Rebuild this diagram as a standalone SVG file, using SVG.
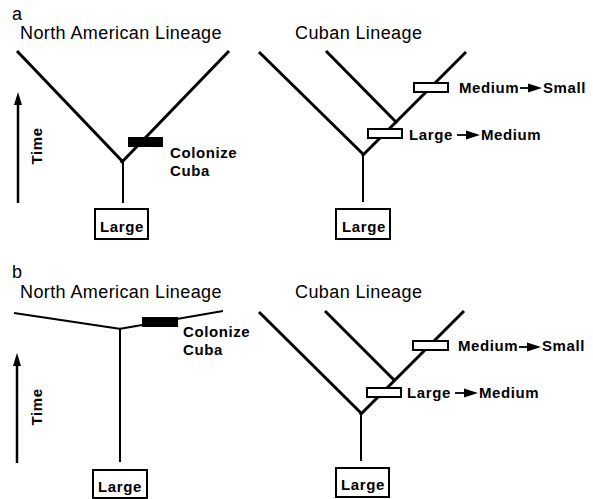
<svg xmlns="http://www.w3.org/2000/svg" width="593" height="499" viewBox="0 0 593 499">
<style>
.title{font-family:"Liberation Sans",Arial,sans-serif;font-size:18px;letter-spacing:0.4px;fill:#000}
.panel{font-family:"Liberation Sans",Arial,sans-serif;font-size:18px;fill:#000}
.lbl{font-family:"Liberation Sans",Arial,sans-serif;font-size:15px;font-weight:bold;letter-spacing:0.6px;fill:#000}
.br{stroke:#000;stroke-width:3;fill:none;stroke-linecap:butt}
.br2{stroke:#000;stroke-width:2.2;fill:none}
.stem{stroke:#000;stroke-width:2;fill:none}
.box{fill:#fff;stroke:#000;stroke-width:2}
.blk{fill:#000}
.ev{fill:#fff;stroke:#000;stroke-width:2}
.ax{stroke:#000;stroke-width:2.5}
</style>
<rect width="593" height="499" fill="#fff"/>

<!-- Panel a -->
<text class="panel" x="12" y="20">a</text>
<text class="title" x="20" y="39">North American Lineage</text>
<text class="title" x="295" y="39">Cuban Lineage</text>

<g id="time-a">
<line class="ax" x1="18" y1="203" x2="18" y2="100"/>
<polygon points="18,92 14,105 22,105" fill="#000"/>
<text class="lbl" transform="translate(42,146) rotate(-90)" text-anchor="middle">Time</text>
</g>

<g id="connectors">
<!-- a left tree -->
<line class="br" x1="17" y1="51" x2="123" y2="162"/>
<line class="br" x1="229" y1="51" x2="121" y2="163"/>
<line class="stem" x1="123" y1="161" x2="123" y2="203"/>
<!-- a right tree -->
<line class="br" x1="259" y1="52" x2="364" y2="155"/>
<line class="br" x1="466" y1="52" x2="362" y2="156"/>
<line class="br" x1="326" y1="51" x2="397" y2="123"/>
<line class="stem" x1="363" y1="154" x2="363" y2="202"/>
<!-- b left tree -->
<line class="br2" x1="14" y1="313" x2="121" y2="329"/>
<line class="br2" x1="119" y1="329" x2="223" y2="311"/>
<line class="stem" x1="120" y1="328" x2="120" y2="462"/>
<!-- b right tree -->
<line class="br" x1="259" y1="312" x2="362" y2="414"/>
<line class="br" x1="464" y1="311" x2="360" y2="415"/>
<line class="br" x1="325" y1="311" x2="395" y2="381"/>
<line class="stem" x1="361" y1="413" x2="361" y2="461"/>
</g>

<g id="colonize-a">
<rect class="blk" x="128" y="137" width="35" height="10"/>
<text class="lbl" x="170" y="158">Colonize</text>
<text class="lbl" x="170" y="176">Cuba</text>
</g>
<g id="large-a-left">
<rect class="box" x="95" y="209" width="53" height="30"/>
<text class="lbl" x="122" y="232" text-anchor="middle">Large</text>
</g>
<g id="large-a-right">
<rect class="box" x="336" y="209" width="54" height="30"/>
<text class="lbl" x="364" y="232" text-anchor="middle">Large</text>
</g>
<g id="med-small-a">
<rect class="ev" x="414" y="83" width="34" height="9"/>
<text class="lbl" x="459" y="93">Medium</text>
<line x1="520" y1="88" x2="530" y2="88" stroke="#000" stroke-width="1.8"/>
<polygon points="528,83.5 542,88 528,92.5" fill="#000"/>
<text class="lbl" x="543" y="93">Small</text>
</g>
<g id="large-med-a">
<rect class="ev" x="368" y="129" width="34" height="9"/>
<text class="lbl" x="409" y="140">Large</text>
<line x1="457" y1="135" x2="468" y2="135" stroke="#000" stroke-width="1.8"/>
<polygon points="466,130.5 480,135 466,139.5" fill="#000"/>
<text class="lbl" x="481" y="140">Medium</text>
</g>

<!-- Panel b -->
<text class="panel" x="12" y="278">b</text>
<text class="title" x="20" y="298">North American Lineage</text>
<text class="title" x="295" y="298">Cuban Lineage</text>

<g id="time-b">
<line class="ax" x1="17" y1="463" x2="17" y2="361"/>
<polygon points="17,353 13,366 21,366" fill="#000"/>
<text class="lbl" transform="translate(42,407) rotate(-90)" text-anchor="middle">Time</text>
</g>
<g id="colonize-b">
<rect class="blk" x="142" y="317" width="36" height="10"/>
<text class="lbl" x="183" y="337">Colonize</text>
<text class="lbl" x="183" y="355">Cuba</text>
</g>
<g id="large-b-left">
<rect class="box" x="93" y="470" width="54" height="28"/>
<text class="lbl" x="120" y="492" text-anchor="middle">Large</text>
</g>
<g id="large-b-right">
<rect class="box" x="336" y="468" width="53" height="29"/>
<text class="lbl" x="363" y="490" text-anchor="middle">Large</text>
</g>
<g id="med-small-b">
<rect class="ev" x="413" y="341" width="35" height="9"/>
<text class="lbl" x="458" y="351">Medium</text>
<line x1="519" y1="347" x2="529" y2="347" stroke="#000" stroke-width="1.8"/>
<polygon points="527,342.5 541,347 527,351.5" fill="#000"/>
<text class="lbl" x="542" y="351">Small</text>
</g>
<g id="large-med-b">
<rect class="ev" x="367" y="388" width="34" height="9"/>
<text class="lbl" x="407" y="398">Large</text>
<line x1="455" y1="393" x2="466" y2="393" stroke="#000" stroke-width="1.8"/>
<polygon points="464,388.5 478,393 464,397.5" fill="#000"/>
<text class="lbl" x="479" y="398">Medium</text>
</g>
</svg>
